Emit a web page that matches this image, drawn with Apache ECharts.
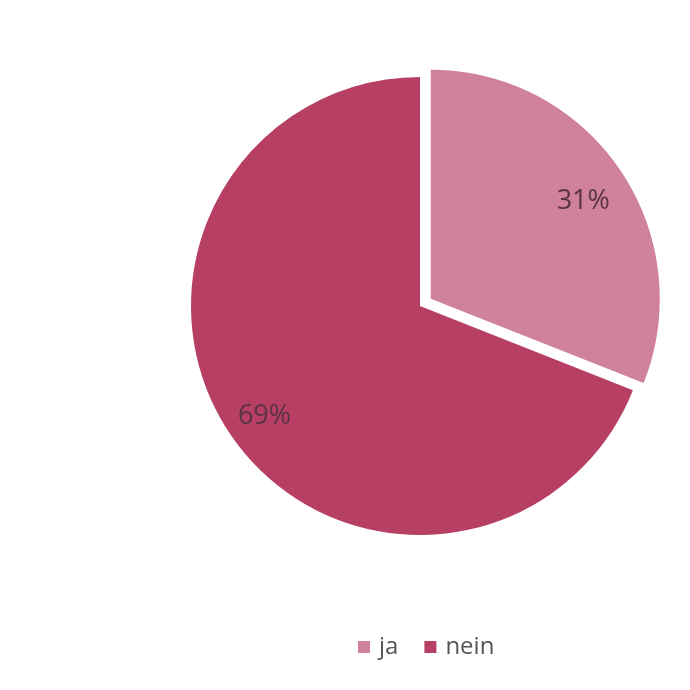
<!DOCTYPE html>
<html>
<head>
<meta charset="utf-8">
<script src="https://cdn.jsdelivr.net/npm/echarts@6/dist/echarts.min.js"></script>
<style>html,body{margin:0;padding:0;background:#fff;}#c{width:690px;height:690px;}</style>
</head>
<body>
<div id="c"></div>
<script>
const categories = ['ja', 'nein'];
const values = [31, 69];
const colors = ['#cf8299', '#b73f63'];
const labelOffsets = [[-3, 8], [0, 5]];

const chart = echarts.init(document.getElementById('c'));
const mainData = categories.map((n, i) => ({
  name: n, value: values[i], selected: i === 0,
  itemStyle: { color: colors[i] }
}));
const labelData = categories.map((n, i) => ({
  name: n, value: values[i], selected: i === 0,
  label: { offset: labelOffsets[i] },
  select: { label: { offset: labelOffsets[i] } }
}));
chart.setOption({
  animation: false,
  legend: {
    data: categories,
    left: 353,
    top: 630,
    itemWidth: 12,
    itemHeight: 12,
    itemGap: 26,
    icon: 'rect',
    textStyle: { fontFamily: 'Open Sans', fontSize: 24, color: '#555555', padding: [0, 0, 0, 4] }
  },
  series: [
    {
      type: 'pie',
      center: [420, 306],
      radius: [0, 229],
      startAngle: 90,
      clockwise: true,
      selectedMode: 'single',
      selectedOffset: 13,
      silent: true,
      label: { show: false },
      labelLine: { show: false },
      emphasis: { disabled: true },
      data: mainData
    },
    {
      type: 'pie',
      center: [420, 306],
      radius: [141, 229],
      startAngle: 90,
      clockwise: true,
      selectedMode: 'single',
      selectedOffset: 13,
      silent: true,
      itemStyle: { color: 'rgba(0,0,0,0)' },
      label: {
        show: true, position: 'inside',
        formatter: p => Math.round(p.percent) + '%',
        fontFamily: 'Open Sans', fontSize: 27, color: '#5a3446'
      },
      labelLine: { show: false },
      emphasis: { disabled: true },
      data: labelData
    }
  ]
});
</script>
</body>
</html>
